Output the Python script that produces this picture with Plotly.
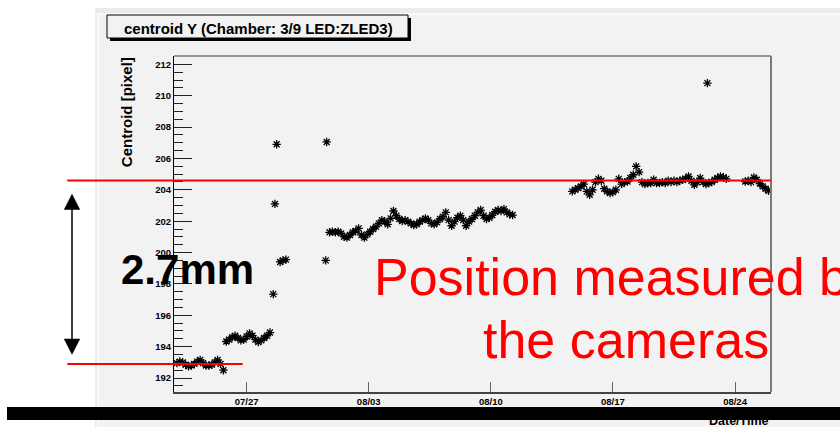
import plotly.graph_objects as go

# ---------------- data ----------------
seg1_times = ["2010-07-23 00:00", "2010-07-23 04:00", "2010-07-23 08:00", "2010-07-23 12:00",
              "2010-07-23 16:00", "2010-07-23 20:00", "2010-07-24 00:00", "2010-07-24 04:00",
              "2010-07-24 08:00", "2010-07-24 12:00", "2010-07-24 16:00", "2010-07-24 20:00",
              "2010-07-25 00:00", "2010-07-25 04:00", "2010-07-25 08:00", "2010-07-25 12:00",
              "2010-07-25 16:00"]
seg1_vals = [192.95, 193.05, 193.00, 192.85, 192.75, 192.80, 192.90, 193.05, 193.15, 192.95,
             192.80, 192.80, 192.85, 193.00, 193.15, 192.90, 192.50]

seg2_times = ["2010-07-25 20:00", "2010-07-26 00:00", "2010-07-26 04:00", "2010-07-26 08:00",
              "2010-07-26 12:00", "2010-07-26 16:00", "2010-07-26 20:00", "2010-07-27 00:00",
              "2010-07-27 04:00", "2010-07-27 08:00", "2010-07-27 12:00", "2010-07-27 16:00",
              "2010-07-27 20:00", "2010-07-28 00:00", "2010-07-28 04:00", "2010-07-28 08:00"]
seg2_vals = [194.33, 194.45, 194.60, 194.70, 194.55, 194.40, 194.45, 194.65, 194.85, 194.70,
             194.45, 194.30, 194.40, 194.55, 194.70, 194.90]

jump_times = ["2010-07-28 12:36", "2010-07-28 14:54", "2010-07-28 17:17", "2010-07-28 22:00",
              "2010-07-29 02:00", "2010-07-29 06:00", "2010-07-31 12:45", "2010-07-31 14:05"]
jump_vals = [197.35, 203.10, 206.90, 199.40, 199.50, 199.55, 199.50, 207.05]

seg3_times = [
    "2010-07-31 18:00", "2010-07-31 22:00",
    "2010-08-01 02:00", "2010-08-01 06:00", "2010-08-01 10:00", "2010-08-01 14:00", "2010-08-01 18:00", "2010-08-01 22:00",
    "2010-08-02 02:00", "2010-08-02 06:00", "2010-08-02 10:00", "2010-08-02 14:00", "2010-08-02 18:00", "2010-08-02 22:00",
    "2010-08-03 02:00", "2010-08-03 06:00", "2010-08-03 10:00", "2010-08-03 14:00", "2010-08-03 18:00", "2010-08-03 22:00",
    "2010-08-04 02:00", "2010-08-04 06:00", "2010-08-04 10:00", "2010-08-04 14:00", "2010-08-04 18:00", "2010-08-04 22:00",
    "2010-08-05 02:00", "2010-08-05 06:00", "2010-08-05 10:00", "2010-08-05 14:00", "2010-08-05 18:00", "2010-08-05 22:00",
    "2010-08-06 02:00", "2010-08-06 06:00", "2010-08-06 10:00", "2010-08-06 14:00", "2010-08-06 18:00", "2010-08-06 22:00",
    "2010-08-07 02:00", "2010-08-07 06:00", "2010-08-07 10:00", "2010-08-07 14:00", "2010-08-07 18:00", "2010-08-07 22:00",
    "2010-08-08 02:00", "2010-08-08 06:00", "2010-08-08 10:00", "2010-08-08 14:00", "2010-08-08 18:00", "2010-08-08 22:00",
    "2010-08-09 02:00", "2010-08-09 06:00", "2010-08-09 10:00", "2010-08-09 14:00", "2010-08-09 18:00", "2010-08-09 22:00",
    "2010-08-10 02:00", "2010-08-10 06:00", "2010-08-10 10:00", "2010-08-10 14:00", "2010-08-10 18:00", "2010-08-10 22:00",
    "2010-08-11 02:00", "2010-08-11 06:00"]
seg3_vals = [201.29, 201.33, 201.29, 201.33, 201.22, 201.01, 200.95, 201.12, 201.29, 201.37,
             201.54, 201.12, 200.95, 201.16, 201.33, 201.50, 201.65, 201.86, 202.07, 201.97,
             201.80, 202.18, 202.65, 202.35, 202.14, 202.01, 202.07, 201.97, 201.86, 201.75,
             201.80, 201.97, 202.07, 202.18, 202.07, 201.86, 201.80, 201.92, 202.14, 202.29,
             202.56, 202.07, 201.71, 201.97, 202.22, 202.35, 202.07, 201.71, 201.97, 202.14,
             202.35, 202.56, 202.71, 202.35, 202.14, 202.22, 202.39, 202.60, 202.71, 202.65,
             202.77, 202.56, 202.43, 202.39]

seg4_times = [
    "2010-08-14 16:00", "2010-08-14 20:00",
    "2010-08-15 00:00", "2010-08-15 04:00", "2010-08-15 08:00", "2010-08-15 12:00", "2010-08-15 16:00", "2010-08-15 20:00",
    "2010-08-16 00:00", "2010-08-16 04:00", "2010-08-16 08:00", "2010-08-16 12:00", "2010-08-16 16:00", "2010-08-16 20:00",
    "2010-08-17 00:00", "2010-08-17 04:00", "2010-08-17 08:00", "2010-08-17 12:00", "2010-08-17 16:00", "2010-08-17 20:00",
    "2010-08-18 00:00", "2010-08-18 04:00", "2010-08-18 08:00", "2010-08-18 12:00", "2010-08-18 16:00", "2010-08-18 20:00",
    "2010-08-19 00:00", "2010-08-19 04:00", "2010-08-19 08:00", "2010-08-19 12:00", "2010-08-19 16:00", "2010-08-19 20:00",
    "2010-08-20 00:00", "2010-08-20 04:00", "2010-08-20 08:00", "2010-08-20 12:00", "2010-08-20 16:00", "2010-08-20 20:00",
    "2010-08-21 00:00", "2010-08-21 04:00", "2010-08-21 08:00", "2010-08-21 12:00", "2010-08-21 16:00", "2010-08-21 20:00",
    "2010-08-22 00:00", "2010-08-22 04:00", "2010-08-22 08:00", "2010-08-22 12:00", "2010-08-22 16:00", "2010-08-22 20:00",
    "2010-08-23 00:00", "2010-08-23 04:00", "2010-08-23 08:00", "2010-08-23 12:00"]
seg4_vals = [203.90, 204.00, 204.11, 204.22, 204.36, 203.90, 203.68, 204.00, 204.49, 204.70,
             204.58, 204.07, 203.90, 203.79, 203.85, 204.00, 204.70, 204.36, 204.49, 204.53,
             204.75, 204.96, 205.49, 205.13, 204.49, 204.36, 204.43, 204.43, 204.64, 204.43,
             204.43, 204.49, 204.43, 204.58, 204.49, 204.58, 204.49, 204.58, 204.64, 204.70,
             204.85, 204.58, 204.32, 204.49, 204.75, 204.49, 204.36, 204.43, 204.49, 204.64,
             204.75, 204.85, 204.79, 204.70]

outlier_times = ["2010-08-22 10:00"]
outlier_vals = [210.80]

seg5_times = ["2010-08-24 14:00", "2010-08-24 18:00", "2010-08-24 22:00", "2010-08-25 02:00",
              "2010-08-25 06:00", "2010-08-25 10:00", "2010-08-25 14:00", "2010-08-25 18:00",
              "2010-08-25 22:00"]
seg5_vals = [204.53, 204.58, 204.49, 204.79, 204.64, 204.40, 204.22, 204.07, 203.94]

x_tick_vals = ["2010-07-27 00:00", "2010-08-03 00:00", "2010-08-10 00:00",
               "2010-08-17 00:00", "2010-08-24 00:00"]
x_tick_text = ["07/27<br>00:00", "08/03<br>00:00", "08/10<br>00:00",
               "08/17<br>00:00", "08/24<br>00:00"]
x_range = ["2010-07-22 20:00", "2010-08-26 01:30"]
y_range = [191.11, 212.53]

upper_level = 204.6   # camera position level after the move
lower_level = 192.9   # camera position level before the move

title_text = "centroid Y (Chamber: 3/9 LED:ZLED3)"
y_title = "Centroid [pixel]"
x_title = "Date/Time"

all_times = seg1_times + seg2_times + jump_times + seg3_times + seg4_times + outlier_times + seg5_times
all_vals = seg1_vals + seg2_vals + jump_vals + seg3_vals + seg4_vals + outlier_vals + seg5_vals

# ---------------- layout helpers ----------------
FONT = "Liberation Sans, Arial, Helvetica, sans-serif"
W, H = 840, 427
L, R, T, B = 174, 771, 56, 392


def X(px):
    return (px - L) / (R - L)


def Y(py):
    return (B - py) / (B - T)


fig = go.Figure()
fig.add_trace(go.Scatter(
    x=all_times, y=all_vals, mode="markers",
    marker=dict(symbol="asterisk-open", size=7, color="black",
                line=dict(width=1.3, color="black")),
    showlegend=False, hoverinfo="x+y"))

shapes = [
    # canvas panel
    dict(type="rect", xref="paper", yref="paper", x0=X(95), x1=X(840), y0=Y(8), y1=Y(427),
         fillcolor="#ebebeb", line=dict(width=0), layer="below"),
    dict(type="rect", xref="paper", yref="paper", x0=X(97), x1=X(840), y0=Y(13), y1=Y(427),
         fillcolor="#fafafa", line=dict(width=0), layer="below"),
    dict(type="rect", xref="paper", yref="paper", x0=X(99), x1=X(840), y0=Y(15), y1=Y(427),
         fillcolor="#f2f2f2", line=dict(width=0), layer="below"),
    # title box with shadow
    dict(type="rect", xref="paper", yref="paper", x0=X(110), x1=X(411), y0=Y(18), y1=Y(41),
         fillcolor="black", line=dict(width=0), layer="above"),
    dict(type="rect", xref="paper", yref="paper", x0=X(107), x1=X(408), y0=Y(15), y1=Y(38),
         fillcolor="#f2f2f2", line=dict(width=1, color="black"), layer="above"),
    # frame top / right
    dict(type="line", xref="paper", yref="paper", x0=0, x1=1, y0=1, y1=1,
         line=dict(width=1.5, color="#7a7a7a"), layer="above"),
    dict(type="line", xref="paper", yref="paper", x0=1, x1=1, y0=0, y1=1,
         line=dict(width=2, color="#7a7a7a"), layer="above"),
    # red level lines
    dict(type="line", xref="paper", yref="y", x0=X(67.3), x1=X(771), y0=upper_level, y1=upper_level,
         line=dict(width=2, color="#ff0000"), layer="above"),
    dict(type="line", xref="paper", yref="y", x0=X(67.3), x1=X(242.7), y0=lower_level, y1=lower_level,
         line=dict(width=2, color="#ff0000"), layer="above"),
    # double arrow
    dict(type="line", xref="paper", yref="paper", x0=X(72), x1=X(72), y0=Y(207), y1=Y(341),
         line=dict(width=1.5, color="black"), layer="above"),
    dict(type="path", xref="paper", yref="paper",
         path=f"M {X(72)},{Y(194.3)} L {X(64.2)},{Y(209.5)} L {X(79.8)},{Y(209.5)} Z",
         fillcolor="black", line=dict(width=0.5, color="black"), layer="above"),
    dict(type="path", xref="paper", yref="paper",
         path=f"M {X(72)},{Y(354.3)} L {X(64.2)},{Y(339)} L {X(79.8)},{Y(339)} Z",
         fillcolor="black", line=dict(width=0.5, color="black"), layer="above"),
]

annotations = [
    dict(text="<b>" + title_text + "</b>", xref="paper", yref="paper", x=X(258), y=Y(28.1),
         xanchor="center", yanchor="middle", showarrow=False,
         font=dict(family=FONT, size=15, color="black")),
    dict(text="<b>" + y_title + "</b>", xref="paper", yref="paper", x=X(126.7), y=Y(112.5),
         xanchor="center", yanchor="middle", showarrow=False, textangle=-90,
         font=dict(family=FONT, size=15, color="black")),
    dict(text="<b>2.7mm</b>", xref="paper", yref="paper", x=X(187), y=Y(269.4),
         xanchor="center", yanchor="middle", showarrow=False,
         font=dict(family=FONT, size=42, color="black")),
    dict(text="Position measured by", xref="paper", yref="paper", x=X(624), y=Y(277),
         xanchor="center", yanchor="middle", showarrow=False,
         font=dict(family=FONT, size=52, color="#ff0000")),
    dict(text="the cameras", xref="paper", yref="paper", x=X(626), y=Y(340),
         xanchor="center", yanchor="middle", showarrow=False,
         font=dict(family=FONT, size=52, color="#ff0000")),
    # x-axis title, mostly hidden behind the black bar below
    dict(text="<b>" + x_title + "</b>", xref="paper", yref="paper", x=X(771), y=Y(420.5),
         xanchor="right", yanchor="middle", showarrow=False,
         font=dict(family=FONT, size=12.5, color="black")),
    # black bar across the bottom (drawn last so it covers the x title)
    dict(text=" ", xref="paper", yref="paper", x=X(423.5), y=Y(413.75),
         xanchor="center", yanchor="middle", showarrow=False,
         width=833, height=12.5, bgcolor="black", borderpad=0, borderwidth=0,
         font=dict(family=FONT, size=8, color="black")),
]

fig.update_layout(
    width=W, height=H,
    margin=dict(l=L, r=W - R, t=T, b=H - B, pad=0, autoexpand=False),
    paper_bgcolor="white", plot_bgcolor="#f2f2f2",
    showlegend=False,
    shapes=shapes, annotations=annotations,
    xaxis=dict(type="date", range=x_range, tickmode="array", tickvals=x_tick_vals,
               ticktext=x_tick_text, ticks="inside", ticklen=10, tickwidth=1, tickcolor="#666666",
               showline=True, linecolor="#444444", linewidth=1.5, showgrid=False, zeroline=False,
               automargin=False,
               tickfont=dict(family=FONT, size=9.5, color="black", weight="bold")),
    yaxis=dict(range=y_range, tick0=192, dtick=2, ticks="inside", ticklen=18, tickwidth=1,
               tickcolor="#222222", showline=True, linecolor="black", linewidth=1,
               showgrid=False, zeroline=False, automargin=False,
               minor=dict(tick0=192, dtick=0.5, ticks="inside", ticklen=9, tickwidth=1,
                          tickcolor="#222222", showgrid=False),
               tickfont=dict(family=FONT, size=9.5, color="black", weight="bold")),
)

fig.write_html("out.html")
